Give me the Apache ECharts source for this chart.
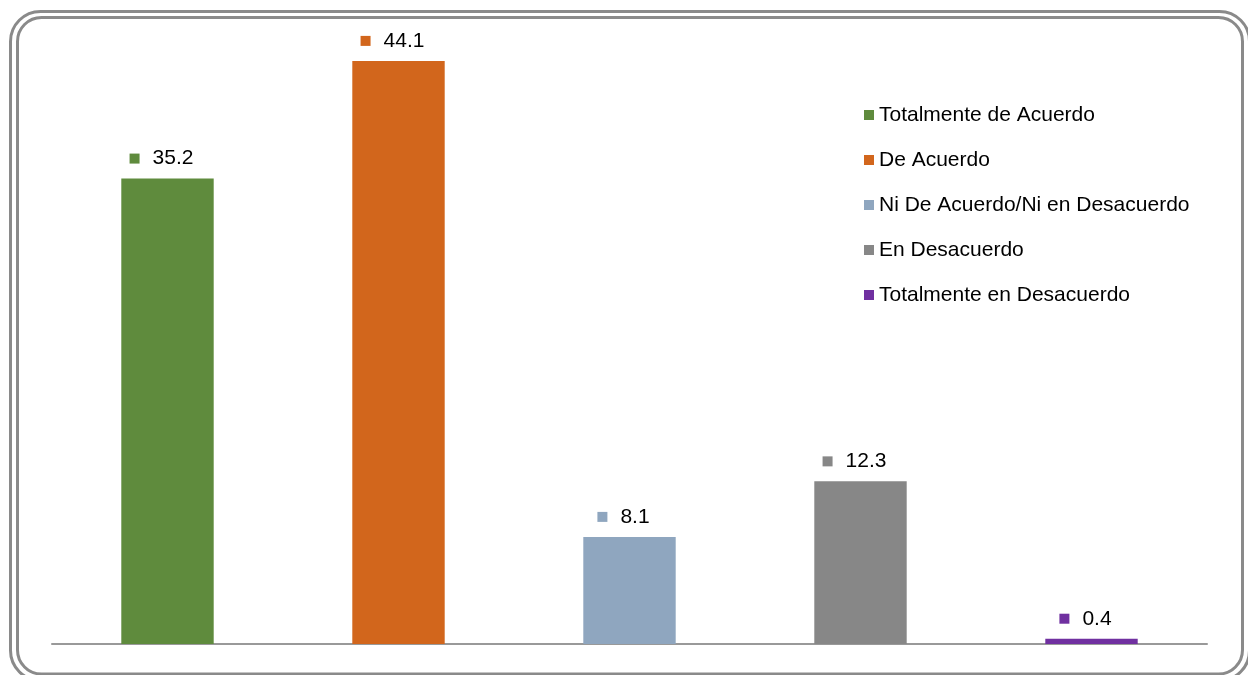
<!DOCTYPE html>
<html><head><meta charset="utf-8">
<script src="https://cdn.jsdelivr.net/npm/echarts@6/dist/echarts.min.js"></script>
<style>html,body{margin:0;padding:0;background:#fff}#c{width:1248px;height:675px}</style>
</head><body><div id="c"></div>
<script>
const categories = ["Totalmente de Acuerdo","De Acuerdo","Ni De Acuerdo/Ni en Desacuerdo","En Desacuerdo","Totalmente en Desacuerdo"];
const values = [35.2, 44.1, 8.1, 12.3, 0.4];
const colors = ["#5F8B3D","#D2661C","#8FA6BF","#878787","#7030A0"];

const FONT = 'Liberation Sans, Arial, sans-serif';
const chart = echarts.init(document.getElementById('c'));
const series = categories.map((name, i) => ({
  name: name,
  type: 'bar',
  stack: 'all',
  barWidth: '40%',
  itemStyle: { color: colors[i] },
  data: values.map((v, j) => j === i ? v : '-'),
  label: {
    show: true,
    position: 'top',
    distance: 1,
    offset: [-6, -7],
    formatter: p => '{s|}{g|}{v|' + p.value + '}',
    rich: {
      s: { width: 10, height: 10, backgroundColor: colors[i], verticalAlign: 'middle' },
      g: { width: 13 },
      v: { fontSize: 21, lineHeight: 24, color: '#000', fontFamily: FONT, verticalAlign: 'middle' }
    }
  }
}));
chart.setOption({
  animation: false,
  grid: { left: 52, right: 41, top: 49, bottom: 31 },
  xAxis: {
    type: 'category', data: categories,
    axisLine: { lineStyle: { color: '#999', width: 2 } },
    axisTick: { show: false }, axisLabel: { show: false }
  },
  yAxis: { type: 'value', min: 0, max: 45, show: false, splitLine: { show: false } },
  legend: {
    orient: 'vertical', left: 859, top: 99.5, itemGap: 24,
    itemWidth: 10, itemHeight: 10, icon: 'rect',
    textStyle: { fontSize: 21, lineHeight: 21, color: '#000', fontFamily: FONT },
    data: categories
  },
  graphic: [
    { type: 'rect', shape: { x: 10.5, y: 11.5, width: 1239, height: 669, r: 30 }, style: { fill: 'none', stroke: '#8a8a8a', lineWidth: 3 }, z: 100 },
    { type: 'rect', shape: { x: 17.5, y: 17.5, width: 1225, height: 656.5, r: 24 }, style: { fill: 'none', stroke: '#8a8a8a', lineWidth: 3 }, z: 100 }
  ],
  series: series
});
</script></body></html>
